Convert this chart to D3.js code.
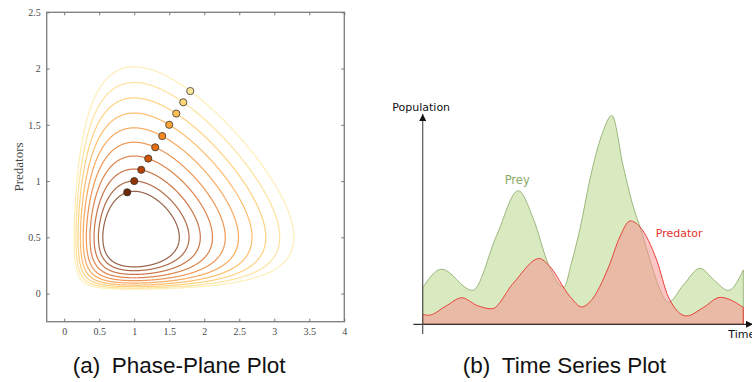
<!DOCTYPE html>
<html>
<head>
<meta charset="utf-8">
<script src="https://cdn.jsdelivr.net/npm/d3@7"></script>
<style>
  html, body { margin: 0; padding: 0; background: #fff; }
  svg { display: block; }
</style>
</head>
<body>
<svg id="chart" width="752" height="382"></svg>
<script>
// Lotka-Volterra parameters (equilibrium at prey 1, predators 0.5)
const LV_ALPHA = 2 / 3;
const LV_BETA = 4 / 3;
const LV_GAMMA = 1;
const LV_DELTA = 1;

// Starting point of each orbit (the dots)
const startPrey = [0.9, 1.0, 1.1, 1.2, 1.3, 1.4, 1.5, 1.6, 1.7, 1.8];
const startPredators = [0.9, 1.0, 1.1, 1.2, 1.3, 1.4, 1.5, 1.6, 1.7, 1.8];

// Phase plot ticks
const phaseXTicks = [0, 0.5, 1, 1.5, 2, 2.5, 3, 3.5, 4];
const phaseYTicks = [0, 0.5, 1, 1.5, 2, 2.5];

// Time series (time 0-10, population 0-10)
const preyTime = [0, 0.59, 1.55, 2.31, 2.98, 3.45, 3.93, 4.4, 4.65, 4.91, 5.22, 5.6, 5.9,
  6.26, 6.57, 6.78, 7.09, 7.41, 7.66, 8.13, 8.65, 9.1, 9.53, 10];
const preyValues = [1.75, 2.64, 1.62, 4.27, 6.4, 5.06, 2.83, 1.78, 3.0, 4.6, 6.97, 9.13, 10.0,
  7.53, 5.62, 4.66, 3.07, 1.64, 1.05, 1.88, 2.68, 2.1, 1.62, 2.6];
const predatorTime = [0, 0.18, 0.7, 1.22, 1.7, 2.15, 2.83, 3.64, 3.93, 4.6, 4.96, 5.22,
  5.8, 6.15, 6.47, 6.78, 7.3, 7.66, 8.23, 8.75, 9.28, 10];
const predatorValues = [0.48, 0.43, 0.85, 1.27, 0.9, 0.74, 1.98, 3.15, 2.83, 1.32, 0.83, 1.08,
  2.75, 4.19, 4.95, 4.66, 3.07, 1.32, 0.4, 0.8, 1.29, 0.81];

const svg = d3.select('#chart');
svg.append('rect').attr('width', 752).attr('height', 382).attr('fill', '#fff');

// ---------- (a) Phase-plane plot ----------
const BOX = { left: 46.7, right: 344.3, top: 12.3, bottom: 321.7 };
const phaseX = d3.scaleLinear([-0.25, 4], [BOX.left, BOX.right]);
const phaseY = d3.scaleLinear([-0.25, 2.5], [BOX.bottom, BOX.top]);

// Conserved quantity of the system, each orbit is one level of it
const conserved = (x, y) =>
  LV_DELTA * x - LV_GAMMA * Math.log(x) + LV_BETA * y - LV_ALPHA * Math.log(y);

const GX0 = 0.01, GY0 = 0.01, GDX = 0.005, GDY = 0.004;
const nx = Math.ceil((3.7 - GX0) / GDX);
const ny = Math.ceil((2.4 - GY0) / GDY);
const field = new Float64Array(nx * ny);
for (let j = 0; j < ny; j++) {
  for (let i = 0; i < nx; i++) {
    field[i + j * nx] = -conserved(GX0 + i * GDX, GY0 + j * GDY);
  }
}

const gridToPlot = d3.geoTransform({
  point(px, py) {
    this.stream.point(phaseX(GX0 + (px - 0.5) * GDX), phaseY(GY0 + (py - 0.5) * GDY));
  },
});
const orbitPath = d3.geoPath(gridToPlot);
const contourGen = d3.contours().size([nx, ny]);

const orbitColor = d3.scaleSequential(d3.interpolateYlOrBr).domain([11.5, -0.25]);
const orbits = startPrey.map((x, i) => ({
  i,
  x,
  y: startPredators[i],
  shape: contourGen.contour(field, -conserved(x, startPredators[i])),
}));

const phase = svg.append('g');

// Orbits
phase.selectAll('path.orbit')
  .data(orbits)
  .join('path')
  .attr('class', 'orbit')
  .attr('d', (d) => orbitPath(d.shape))
  .attr('fill', 'none')
  .attr('stroke', (d) => orbitColor(d.i))
  .attr('stroke-opacity', 0.72)
  .attr('stroke-width', 1.2);

// Starting points
phase.selectAll('circle')
  .data(orbits)
  .join('circle')
  .attr('cx', (d) => phaseX(d.x))
  .attr('cy', (d) => phaseY(d.y))
  .attr('r', 3.6)
  .attr('fill', (d) => orbitColor(d.i))
  .attr('stroke', '#333')
  .attr('stroke-width', 0.8);

// Frame and axes (ticks pointing in, on all four sides)
phase.append('rect')
  .attr('x', BOX.left).attr('y', BOX.top)
  .attr('width', BOX.right - BOX.left).attr('height', BOX.bottom - BOX.top)
  .attr('fill', 'none').attr('stroke', '#848484').attr('stroke-width', 1.4);

const styleAxis = (g) => {
  g.select('.domain').remove();
  g.selectAll('.tick line').attr('stroke', '#777');
  g.selectAll('.tick text')
    .attr('fill', '#4a4a4a')
    .style('font-family', '"Liberation Serif", "DejaVu Serif", serif')
    .style('font-size', '10px');
};

phase.append('g')
  .attr('transform', `translate(0,${BOX.bottom})`)
  .call(d3.axisBottom(phaseX).tickValues(phaseXTicks).tickSizeInner(-3).tickSizeOuter(0).tickPadding(6).tickFormat(d3.format('~g')))
  .call(styleAxis);
phase.append('g')
  .attr('transform', `translate(0,${BOX.top})`)
  .call(d3.axisTop(phaseX).tickValues(phaseXTicks).tickSizeInner(-3).tickSizeOuter(0).tickFormat(''))
  .call(styleAxis);
phase.append('g')
  .attr('transform', `translate(${BOX.left},0)`)
  .call(d3.axisLeft(phaseY).tickValues(phaseYTicks).tickSizeInner(-3).tickSizeOuter(0).tickPadding(6).tickFormat(d3.format('~g')))
  .call(styleAxis);
phase.append('g')
  .attr('transform', `translate(${BOX.right},0)`)
  .call(d3.axisRight(phaseY).tickValues(phaseYTicks).tickSizeInner(-3).tickSizeOuter(0).tickFormat(''))
  .call(styleAxis);

phase.append('text')
  .attr('transform', `translate(23,${(BOX.top + BOX.bottom) / 2}) rotate(-90)`)
  .attr('text-anchor', 'middle')
  .attr('fill', '#444')
  .style('font-family', '"Liberation Serif", "DejaVu Serif", serif')
  .style('font-size', '13px')
  .text('Predators');

// ---------- (b) Time series plot ----------
const timeX = d3.scaleLinear([0, 10], [422.7, 743.3]);
const popY = d3.scaleLinear([0, 10], [324.3, 115.5]);

const series = svg.append('g');

const preyPoints = preyTime.map((t, i) => [t, preyValues[i]]);
const predatorPoints = predatorTime.map((t, i) => [t, predatorValues[i]]);

const area = d3.area()
  .x((d) => timeX(d[0]))
  .y0(popY(0))
  .y1((d) => popY(d[1]))
  .curve(d3.curveMonotoneX);

series.append('path')
  .attr('d', area(preyPoints))
  .attr('fill', '#d9eac1')
  .attr('stroke', '#93b073')
  .attr('stroke-width', 0.9);

series.append('path')
  .attr('d', area(predatorPoints))
  .attr('fill', 'rgba(249,140,140,0.5)')
  .attr('stroke', '#e8433b')
  .attr('stroke-width', 1);

// Arrow heads for the axes
const defs = svg.append('defs');
defs.append('marker')
  .attr('id', 'arrow')
  .attr('viewBox', '0 0 10 10')
  .attr('refX', 10).attr('refY', 5)
  .attr('markerWidth', 7).attr('markerHeight', 7)
  .attr('markerUnits', 'userSpaceOnUse')
  .attr('orient', 'auto')
  .append('path')
  .attr('d', 'M0,0L10,5L0,10Z')
  .attr('fill', '#111');

series.append('line')
  .attr('x1', 413.3).attr('x2', 753)
  .attr('y1', popY(0)).attr('y2', popY(0))
  .attr('stroke', '#333').attr('stroke-width', 1.2)
  .attr('marker-end', 'url(#arrow)');
series.append('line')
  .attr('x1', timeX(0)).attr('x2', timeX(0))
  .attr('y1', 334).attr('y2', 114)
  .attr('stroke', '#555').attr('stroke-width', 1.2)
  .attr('marker-end', 'url(#arrow)');

const sansFont = '"DejaVu Sans", sans-serif';
series.append('text')
  .attr('x', 392.3).attr('y', 110.5)
  .attr('fill', '#111')
  .style('font-family', sansFont).style('font-size', '11px')
  .text('Population');
// cut by the right edge, as in the original figure
series.append('text')
  .attr('x', 728.3).attr('y', 337.5)
  .attr('fill', '#111')
  .style('font-family', sansFont).style('font-size', '11px')
  .text('Time');
series.append('text')
  .attr('x', 517.2).attr('y', 183.5)
  .attr('text-anchor', 'middle')
  .attr('fill', '#88aa66')
  .style('font-family', sansFont).style('font-size', '11.5px')
  .text('Prey');
series.append('text')
  .attr('x', 655.7).attr('y', 237)
  .attr('fill', '#e4322c')
  .style('font-family', sansFont).style('font-size', '11px')
  .text('Predator');

// ---------- Captions ----------
const captions = [
  { tag: '(a)', title: 'Phase-Plane Plot', x: 72.7 },
  { tag: '(b)', title: 'Time Series Plot', x: 462.8 },
];
const caption = svg.selectAll('text.caption')
  .data(captions)
  .join('text')
  .attr('class', 'caption')
  .attr('y', 373.3)
  .attr('fill', '#111')
  .style('font-family', '"Liberation Sans", Arial, sans-serif')
  .style('font-size', '22.5px');
caption.append('tspan').attr('x', (d) => d.x).text((d) => d.tag);
caption.append('tspan').attr('x', (d) => d.x + 39).text((d) => d.title);
</script>
</body>
</html>
